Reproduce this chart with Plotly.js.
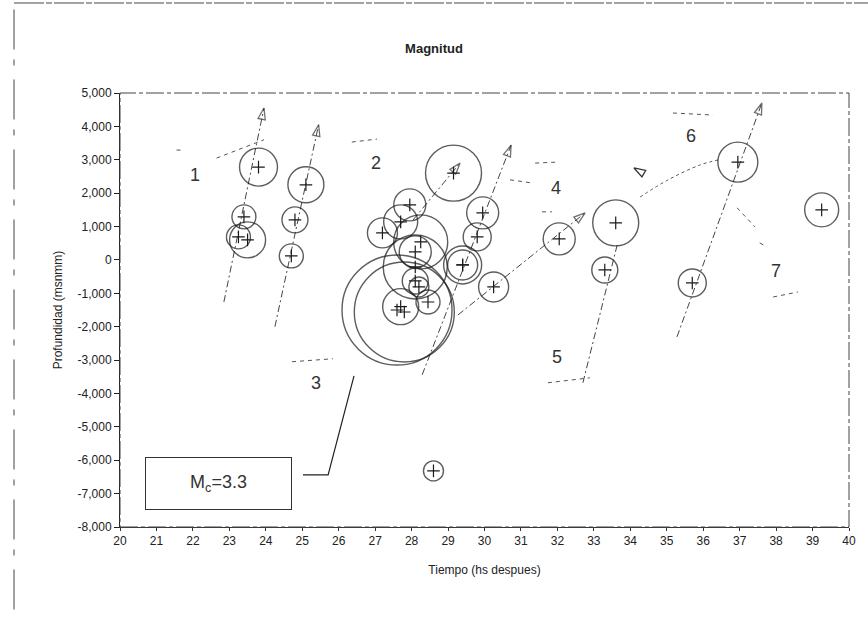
<!DOCTYPE html>
<html>
<head>
<meta charset="utf-8">
<script src="https://cdn.plot.ly/plotly-3.0.1.min.js"></script>
<style>html,body{margin:0;padding:0;background:#fff;}#chart{width:868px;height:617px;}</style>
</head>
<body>
<div id="chart"></div>
<script>
// --- Datos: sismos (tiempo en horas, profundidad en msnmm, valor relativo de burbuja ~ magnitud) ---
const tiempo = [23.8, 23.4, 23.25, 23.5, 25.1, 24.8, 24.7,
  27.95, 29.15, 27.7, 27.2, 28.25, 28.1, 28.1, 28.1, 28.2, 27.7, 28.45, 27.6, 27.8,
  29.95, 29.8, 29.4, 29.4, 30.25, 32.05, 33.6, 33.3, 36.95, 35.7, 39.25, 28.6];
const profundidad = [2780, 1290, 690, 600, 2250, 1200, 120,
  1650, 2600, 1140, 810, 540, 240, -210, -630, -810, -1400, -1260, -1500, -1560,
  1410, 690, -150, -150, -810, 630, 1110, -300, 2930, -690, 1500, -6320];
const magnitudRel = [3.6, 1.44, 1.44, 3.24, 3.24, 1.69, 1.44,
  2.56, 7.84, 2.89, 2.25, 7.29, 2.56, 10.24, 1.69, 1.0, 3.24, 1.44, 30.25, 25.0,
  2.56, 1.96, 3.61, 2.25, 2.25, 2.56, 5.29, 1.69, 4.0, 1.96, 2.89, 1.0];

// Tendencias (segmentos separados por null) y si terminan en flecha
const lineasX = [22.85, 23.95, null, 24.25, 25.45, null, 28.29, 30.73, null, 29.27, 32.76, null, 32.70, 33.64, null, 35.28, 37.61, null, 28.04, 29.33];
const lineasY = [-1260, 4550, null, -2000, 4050, null, -3440, 3440, null, -1650, 1410, null, -3680, 450, null, -2305, 4700, null, 1198, 2904];
const lineasFlecha = [true, true, true, true, false, true, true];

// Curva del grupo 6
const curva6X = [34.27, 35.03, 35.91, 36.41];
const curva6Y = [1886, 2395, 2844, 2994];
const flecha6X = [34.10];
const flecha6Y = [2754];

// Línea de llamada desde el recuadro Mc
const llamadaX = [25.02, 25.71, 26.42];
const llamadaY = [-6437, -6437, -3473];

// Trazos auxiliares (marcas a mano)
const trazosX = [22.65, 23.95, null, 21.55, 21.72, null, 26.36, 27.05, null, 30.70, 31.33, null, 31.39, 31.99, null, 31.58, 31.85, null,
  35.17, 36.27, null, 36.93, 37.42, null, 37.55, 37.75, null, 37.92, 38.6, null, 24.72, 25.84, null, 31.74, 32.89];
const trazosY = [3050, 3600, null, 3290, 3290, null, 3530, 3620, null, 2400, 2300, null, 2900, 2930, null, 1440, 1440, null,
  4400, 4340, null, 1560, 990, null, 510, 390, null, -1110, -960, null, -3050, -2960, null, -3680, -3530];

// Etiquetas de grupos
const etiquetasTexto = ['1', '2', '3', '4', '5', '6', '7'];
const etiquetasX = [22.06, 27.02, 25.38, 31.96, 31.99, 35.67, 38.0];
const etiquetasY = [2540, 2900, -3680, 2150, -2900, 3710, -330];

// Ejes
const xTicks = [20,21,22,23,24,25,26,27,28,29,30,31,32,33,34,35,36,37,38,39,40];
const yTickVals = [5000,4000,3000,2000,1000,0,-1000,-2000,-3000,-4000,-5000,-6000,-7000,-8000];
const yTickText = ['5,000','4,000','3,000','2,000','1,000','0','-1,000','-2,000','-3,000','-4,000','-5,000','-6,000','-7,000','-8,000'];

const FONT = 'Liberation Sans, Arial, sans-serif';
const INK = '#1a1a1a';

// tamaños de flecha por punto
const flechaSizes = [];
let seg = 0;
for (let i = 0; i < lineasX.length; i++) {
  if (lineasX[i] === null) { flechaSizes.push(0); seg++; continue; }
  const isEnd = (i === lineasX.length - 1) || lineasX[i + 1] === null;
  flechaSizes.push(isEnd && lineasFlecha[seg] ? 12 : 0);
}

const traces = [
  {
    type: 'scatter', mode: 'lines', x: trazosX, y: trazosY, hoverinfo: 'skip',
    line: {color: '#555', width: 1, dash: '4px,4px'}, connectgaps: false
  },
  {
    type: 'scatter', mode: 'lines+markers', x: lineasX, y: lineasY, hoverinfo: 'skip', connectgaps: false,
    line: {color: '#444', width: 1, dash: '7px,3px,2px,3px'},
    marker: {symbol: 'arrow-open', size: flechaSizes, angleref: 'previous', color: '#333', line: {width: 1.3, color: '#333'}}
  },
  {
    type: 'scatter', mode: 'lines', x: curva6X, y: curva6Y, hoverinfo: 'skip',
    line: {color: '#555', width: 1, dash: '3px,3px', shape: 'spline'}
  },
  {
    type: 'scatter', mode: 'markers', x: flecha6X, y: flecha6Y, hoverinfo: 'skip',
    marker: {symbol: 'arrow-open', size: 12, angle: -60, color: '#333', line: {width: 1.3, color: '#333'}}
  },
  {
    type: 'scatter', mode: 'lines', x: llamadaX, y: llamadaY, hoverinfo: 'skip',
    line: {color: '#222', width: 1.2}
  },
  {
    type: 'scatter', mode: 'markers', x: tiempo, y: profundidad, name: 'Magnitud',
    marker: {size: magnitudRel, sizemode: 'area', sizeref: 0.005, color: 'rgba(0,0,0,0)',
      line: {color: INK, width: 1.4}}
  },
  {
    type: 'scatter', mode: 'markers', x: tiempo, y: profundidad, hoverinfo: 'skip',
    marker: {symbol: 'cross-thin-open', size: 9, color: INK, line: {color: INK, width: 1.2}}
  }
];

const annotations = etiquetasTexto.map((t, i) => ({
  x: etiquetasX[i], y: etiquetasY[i], xref: 'x', yref: 'y', text: t, showarrow: false,
  font: {family: FONT, size: 18, color: '#333'}
}));
annotations.push({
  x: 22.70, y: -6692, xref: 'x', yref: 'y', text: 'M<sub>c</sub>=3.3', showarrow: false,
  font: {family: FONT, size: 18, color: '#333'}, bordercolor: '#333', borderwidth: 1,
  borderpad: 0, width: 145, height: 51, bgcolor: '#fff'
});

const layout = {
  width: 868, height: 617,
  margin: {l: 120, r: 19, t: 93, b: 90},
  paper_bgcolor: '#fff', plot_bgcolor: '#fff',
  showlegend: false,
  font: {family: FONT, size: 12, color: '#222'},
  title: {text: '<b>Magnitud</b>', font: {family: FONT, size: 13, color: '#222'},
    x: 0.5, xanchor: 'center', y: 1 - 48 / 617, yref: 'container', yanchor: 'middle'},
  xaxis: {
    range: [20, 40], tickvals: xTicks, ticktext: xTicks.map(String),
    showgrid: false, zeroline: false, showline: true, linecolor: '#333', linewidth: 1,
    ticks: 'outside', ticklen: 3, tickcolor: '#333',
    tickfont: {family: FONT, size: 12, color: '#222'},
    title: {text: 'Tiempo (hs despues)', font: {family: FONT, size: 12, color: '#222'}, standoff: 18},
    automargin: false
  },
  yaxis: {
    range: [-8000, 5000], tickvals: yTickVals, ticktext: yTickText,
    showgrid: false, zeroline: false, showline: true, linecolor: '#222', linewidth: 1,
    ticks: 'outside', ticklen: 5, tickcolor: '#222',
    tickfont: {family: FONT, size: 12, color: '#222'},
    title: {text: 'Profundidad (msnmm)', font: {family: FONT, size: 12, color: '#222'}, standoff: 12},
    automargin: false
  },
  shapes: [
    {type: 'rect', xref: 'paper', yref: 'paper', x0: 0, x1: 1, y0: 0, y1: 1,
      line: {color: '#444', width: 1, dash: '18px,3px,4px,3px'}},
    {type: 'line', xref: 'paper', yref: 'paper', x0: -0.1454, x1: 1.03, y0: 1.2074, y1: 1.2074,
      line: {color: '#444', width: 1, dash: '30px,2px,6px,2px'}},
    {type: 'line', xref: 'paper', yref: 'paper', x0: -0.1454, x1: -0.1454, y0: -0.19, y1: 1.2,
      line: {color: '#444', width: 1, dash: '40px,14px,6px,10px'}}
  ],
  annotations: annotations
};

Plotly.newPlot('chart', traces, layout, {displayModeBar: false, staticPlot: true});
</script>
</body>
</html>
